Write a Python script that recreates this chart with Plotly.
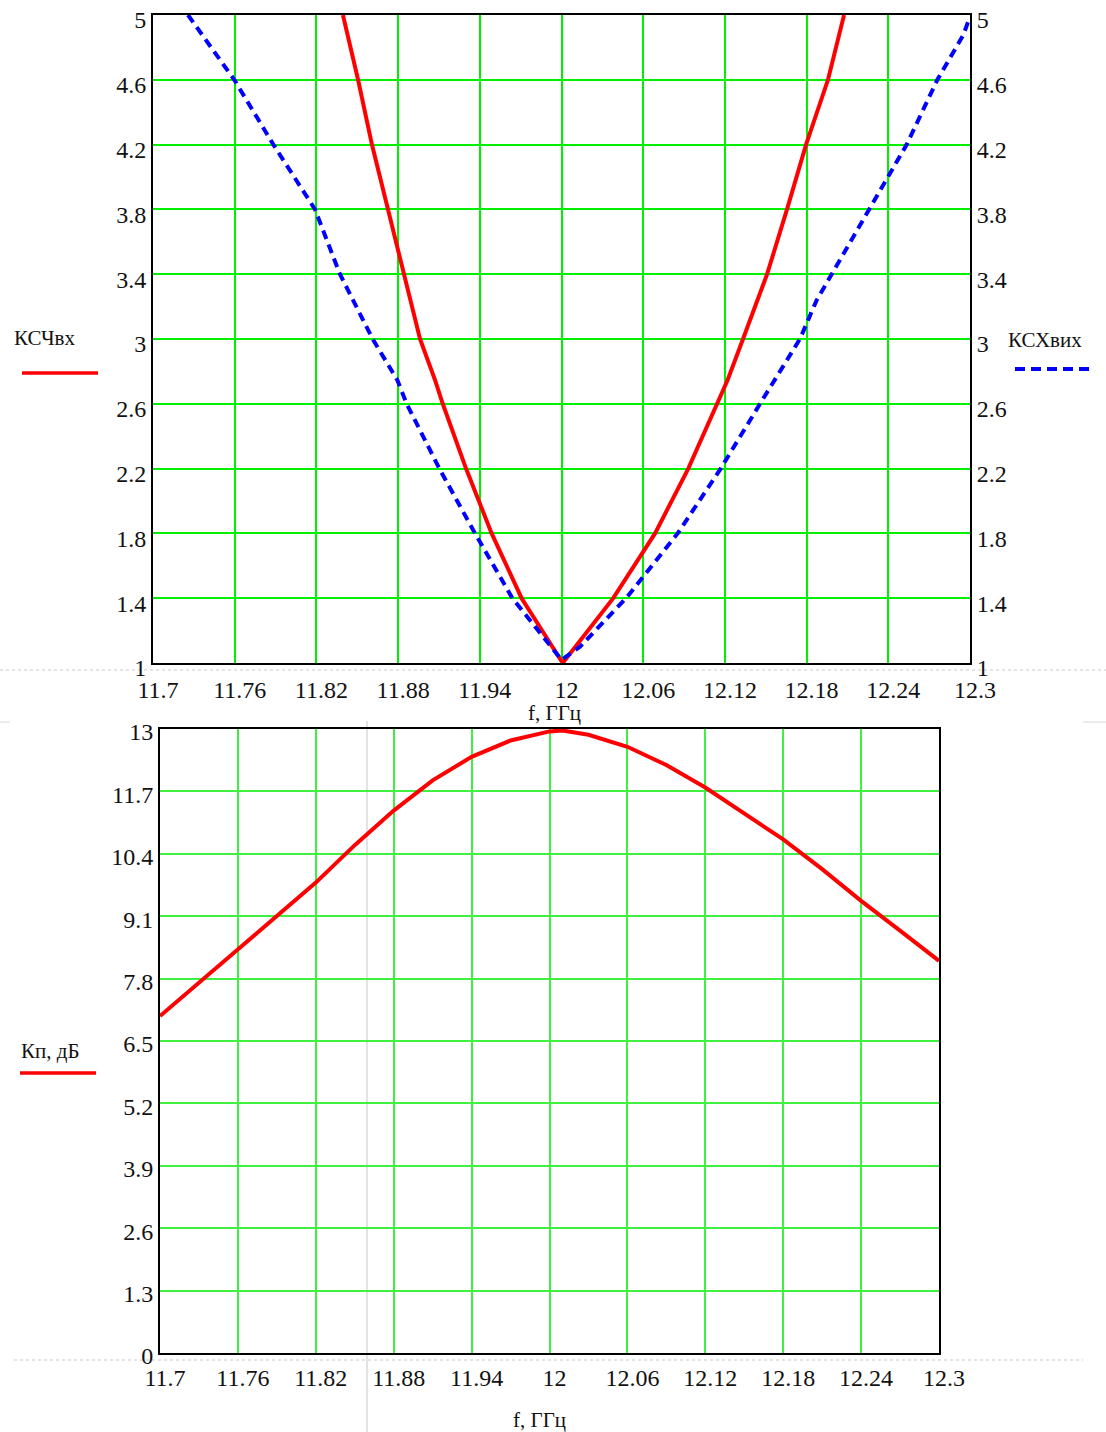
import plotly.graph_objects as go

# ---------------- data ----------------
# Top chart: КСЧвх (red, solid) and КСХвих (blue, dashed) vs f, GHz
ksv_in_f = [11.8395, 11.8506, 11.8608, 11.8726, 11.8843, 11.8961, 11.9071, 11.9128,
            11.9299, 11.9487, 11.9707, 12.0009, 12.0380, 12.0687, 12.0931, 12.1140,
            12.1220, 12.1333, 12.1510, 12.1656, 12.1796, 12.1957, 12.2075]
ksv_in_v = [5.0, 4.6, 4.2, 3.8, 3.4, 3.0, 2.747, 2.6,
            2.2, 1.8, 1.4, 1.0, 1.4, 1.8, 2.2, 2.6,
            2.747, 3.0, 3.4, 3.8, 4.2, 4.6, 5.0]

ksv_out_f = [11.7257, 11.7597, 11.7884, 11.8190, 11.8373, 11.8613, 11.8794, 11.8863,
             11.9103, 11.9365, 11.9639, 11.9900, 12.0000, 12.0136, 12.0474, 12.0853,
             12.1169, 12.1458, 12.1751, 12.1874, 12.1984, 12.2253, 12.2535, 12.2760,
             12.2951, 12.3000]
ksv_out_v = [5.0, 4.6, 4.2, 3.8, 3.4, 3.0, 2.747, 2.6,
             2.2, 1.8, 1.4, 1.13, 1.02, 1.10, 1.4, 1.8,
             2.2, 2.6, 3.0, 3.24, 3.4, 3.8, 4.2, 4.6,
             4.877, 4.99]

# Bottom chart: Кп, дБ vs f, GHz
kp_f = [11.70, 11.73, 11.76, 11.79, 11.82, 11.85, 11.88, 11.91, 11.94, 11.97,
        12.00, 12.01, 12.03, 12.06, 12.09, 12.12, 12.15, 12.18, 12.21, 12.24,
        12.27, 12.30]
kp_v = [7.02, 7.72, 8.42, 9.12, 9.80, 10.58, 11.30, 11.93, 12.42, 12.76,
        12.95, 12.97, 12.88, 12.63, 12.25, 11.78, 11.25, 10.70, 10.08, 9.42,
        8.80, 8.17]

# Tick labels
x_ticks = [11.7, 11.76, 11.82, 11.88, 11.94, 12.0, 12.06, 12.12, 12.18, 12.24, 12.3]
x_tick_text = ["11.7", "11.76", "11.82", "11.88", "11.94", "12",
               "12.06", "12.12", "12.18", "12.24", "12.3"]
ksv_ticks = [1, 1.4, 1.8, 2.2, 2.6, 3, 3.4, 3.8, 4.2, 4.6, 5]
ksv_tick_text = ["1", "1.4", "1.8", "2.2", "2.6", "3", "3.4", "3.8", "4.2", "4.6", "5"]
kp_ticks = [0, 1.3, 2.6, 3.9, 5.2, 6.5, 7.8, 9.1, 10.4, 11.7, 13]
kp_tick_text = ["0", "1.3", "2.6", "3.9", "5.2", "6.5", "7.8", "9.1", "10.4", "11.7", "13"]

# ---------------- figure ----------------
W, H = 1106, 1432
FONT = "Liberation Serif"
RED = "#ff0000"
BLUE = "#0000ff"


def px(x):
    return x / W


def py(y):
    return 1 - y / H


fig = go.Figure()

fig.add_trace(go.Scatter(x=ksv_in_f, y=ksv_in_v, mode="lines", xaxis="x", yaxis="y",
                         line=dict(color=RED, width=4), showlegend=False, hoverinfo="skip"))
fig.add_trace(go.Scatter(x=ksv_out_f, y=ksv_out_v, mode="lines", xaxis="x", yaxis="y3",
                         line=dict(color=BLUE, width=4, dash="9px,6px"),
                         showlegend=False, hoverinfo="skip"))
fig.add_trace(go.Scatter(x=kp_f, y=kp_v, mode="lines", xaxis="x2", yaxis="y2",
                         line=dict(color=RED, width=4), showlegend=False, hoverinfo="skip"))

tickfont = dict(family=FONT, size=24, color="#111111")

common_x = dict(range=[11.7, 12.3], tickmode="array", tickvals=x_ticks, ticktext=x_tick_text,
                showline=True, linecolor="black", linewidth=2, mirror=True, automargin=False,
                zeroline=False, ticks="", tickfont=tickfont, ticklabelshift=5,
                ticklabeloverflow="allow")
common_y = dict(tickmode="array", zeroline=False, automargin=False, ticks="",
                tickfont=tickfont, ticklabeloverflow="allow", showline=True,
                linecolor="black", linewidth=2)

fig.update_layout(
    width=W, height=H, autosize=False,
    margin=dict(l=0, r=0, t=0, b=0, pad=0, autoexpand=False),
    paper_bgcolor="white", plot_bgcolor="rgba(0,0,0,0)",
    font=dict(family=FONT, color="#111111"),
    xaxis=dict(domain=[px(153), px(970)], anchor="y", gridcolor="#00f000", gridwidth=1.5,
               ticklabelstandoff=4, **common_x),
    yaxis=dict(domain=[py(663), py(15)], anchor="x", range=[1, 5],
               tickvals=ksv_ticks, ticktext=ksv_tick_text, gridcolor="#00f000", gridwidth=1.5,
               mirror=True, ticklabelshift=5, ticklabelstandoff=0, **common_y),
    yaxis3=dict(overlaying="y", side="right", anchor="x", range=[1, 5],
                tickvals=ksv_ticks, ticktext=ksv_tick_text, showgrid=False,
                ticklabelshift=5, ticklabelstandoff=0, **common_y),
    xaxis2=dict(domain=[px(160), px(939)], anchor="y2", gridcolor="#40f040", gridwidth=2,
                ticklabelstandoff=2, **common_x),
    yaxis2=dict(domain=[py(1353), py(729)], anchor="x2", range=[0, 13],
                tickvals=kp_ticks, ticktext=kp_tick_text, gridcolor="#40f040", gridwidth=2,
                mirror=True, ticklabelshift=3, ticklabelstandoff=0, **common_y),
)

# ---------------- decorations: legend samples, faint page guides ----------------
shapes = [
    # legend sample lines
    dict(type="line", xref="paper", yref="paper", x0=px(22), x1=px(98), y0=py(373), y1=py(373),
         line=dict(color=RED, width=3.5)),
    dict(type="line", xref="paper", yref="paper", x0=px(1015), x1=px(1090), y0=py(369), y1=py(369),
         line=dict(color=BLUE, width=4, dash="10px,6px")),
    dict(type="line", xref="paper", yref="paper", x0=px(20), x1=px(96), y0=py(1073), y1=py(1073),
         line=dict(color=RED, width=3.5)),
    # faint dashed page guides
    dict(type="line", xref="paper", yref="paper", x0=0, x1=1, y0=py(670), y1=py(670),
         line=dict(color="#c8c8c8", width=1, dash="3px,3px"), layer="below"),
    dict(type="line", xref="paper", yref="paper", x0=px(14), x1=px(1083), y0=py(1360), y1=py(1360),
         line=dict(color="#c8c8c8", width=1, dash="3px,3px"), layer="below"),
    dict(type="line", xref="paper", yref="paper", x0=0, x1=px(10), y0=py(722), y1=py(722),
         line=dict(color="#d8d8d8", width=1), layer="below"),
    dict(type="line", xref="paper", yref="paper", x0=px(1083), x1=1, y0=py(722), y1=py(722),
         line=dict(color="#d8d8d8", width=1), layer="below"),
    dict(type="line", xref="paper", yref="paper", x0=px(367), x1=px(367), y0=py(721), y1=0,
         line=dict(color="#c8c8c8", width=1), layer="below"),
]
fig.update_layout(shapes=shapes)

labfont = dict(family=FONT, size=21, color="#111111")
annotations = [
    dict(text="КСЧвх", x=px(12), y=py(338), xref="paper", yref="paper",
         xanchor="left", yanchor="middle", showarrow=False, font=labfont),
    dict(text="КСХвих", x=px(1006), y=py(340), xref="paper", yref="paper",
         xanchor="left", yanchor="middle", showarrow=False, font=labfont),
    dict(text="Кп, дБ", x=px(19), y=py(1051), xref="paper", yref="paper",
         xanchor="left", yanchor="middle", showarrow=False, font=labfont),
    dict(text="f, ГГц", x=px(554), y=py(713), xref="paper", yref="paper",
         xanchor="center", yanchor="middle", showarrow=False, font=labfont),
    dict(text="f, ГГц", x=px(539), y=py(1420), xref="paper", yref="paper",
         xanchor="center", yanchor="middle", showarrow=False, font=labfont),
]
fig.update_layout(annotations=annotations)

fig.write_html("out.html")
